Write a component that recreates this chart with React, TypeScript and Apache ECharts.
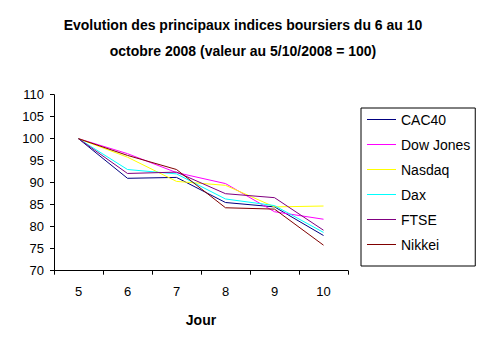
import React, { useEffect, useRef } from "react";
import * as echarts from "echarts";

const titleLines = [
  "Evolution des principaux indices boursiers du 6 au 10",
  "octobre 2008 (valeur au 5/10/2008 = 100)",
];
const days = ["5", "6", "7", "8", "9", "10"];
const seriesNames = ["CAC40", "Dow Jones", "Nasdaq", "Dax", "FTSE", "Nikkei"];
const cac40 = [100, 91.0, 91.2, 85.5, 84.5, 78.0];
const dowJones = [100, 96.6, 92.3, 89.8, 83.4, 81.7];
const nasdaq = [100, 95.8, 90.3, 89.4, 84.5, 84.7];
const dax = [100, 93.0, 92.0, 86.3, 84.8, 78.7];
const ftse = [100, 92.1, 92.4, 87.5, 86.6, 79.2];
const nikkei = [100, 96.2, 93.0, 84.3, 84.0, 75.8];
const seriesValues = [cac40, dowJones, nasdaq, dax, ftse, nikkei];
const colors = ["#000080", "#FF00FF", "#FFFF00", "#00FFFF", "#800080", "#800000"];

const FONT = "'Liberation Sans', Arial, sans-serif";

export default function App() {
  const ref = useRef<HTMLDivElement>(null);
  useEffect(() => {
    if (!ref.current) return;
    const chart = echarts.init(ref.current, undefined, { renderer: "svg" });
    chart.setOption({
      animation: false,
      backgroundColor: "#ffffff",
      textStyle: { fontFamily: FONT },
      title: {
        text: titleLines.join("\n"),
        left: "center",
        top: 12,
        padding: 0,
        textStyle: {
          fontFamily: FONT,
          fontSize: 14,
          fontWeight: "bold",
          color: "#000",
          lineHeight: 26,
        },
      },
      legend: {
        orient: "vertical",
        left: 361,
        top: 108,
        padding: [4.5, 5, 14.5, 6],
        icon: "rect",
        itemWidth: 29,
        itemHeight: 1,
        itemGap: 11,
        borderColor: "#000",
        borderWidth: 1,
        data: seriesNames,
        textStyle: { fontFamily: FONT, fontSize: 14, color: "#000", lineHeight: 14 },
      },
      grid: { left: 54, top: 94.7, right: 138, bottom: 85.3, containLabel: false },
      xAxis: {
        type: "category",
        data: days,
        boundaryGap: true,
        name: "Jour",
        nameLocation: "middle",
        nameGap: 42,
        nameTextStyle: { fontFamily: FONT, fontSize: 14, fontWeight: "bold", color: "#000" },
        axisLine: { lineStyle: { color: "#000", width: 1 } },
        axisTick: { show: true, length: 4, lineStyle: { color: "#000" } },
        axisLabel: { fontFamily: FONT, fontSize: 13, color: "#000", margin: 14 },
        splitLine: { show: false },
      },
      yAxis: {
        type: "value",
        min: 70,
        max: 110,
        interval: 5,
        axisLine: { show: true, lineStyle: { color: "#000", width: 1 } },
        axisTick: { show: true, length: 4, lineStyle: { color: "#000" } },
        axisLabel: { fontFamily: FONT, fontSize: 13, color: "#000", margin: 10 },
        splitLine: { show: false },
      },
      series: seriesNames.map((name, i) => ({
        name,
        type: "line",
        data: seriesValues[i],
        symbol: "none",
        lineStyle: { color: colors[i], width: 1 },
        itemStyle: { color: colors[i] },
      })),
    });
    return () => chart.dispose();
  }, []);
  return (
    <div
      ref={ref}
      style={{ position: "fixed", left: 0, top: 0, width: 486, height: 356 }}
    />
  );
}
